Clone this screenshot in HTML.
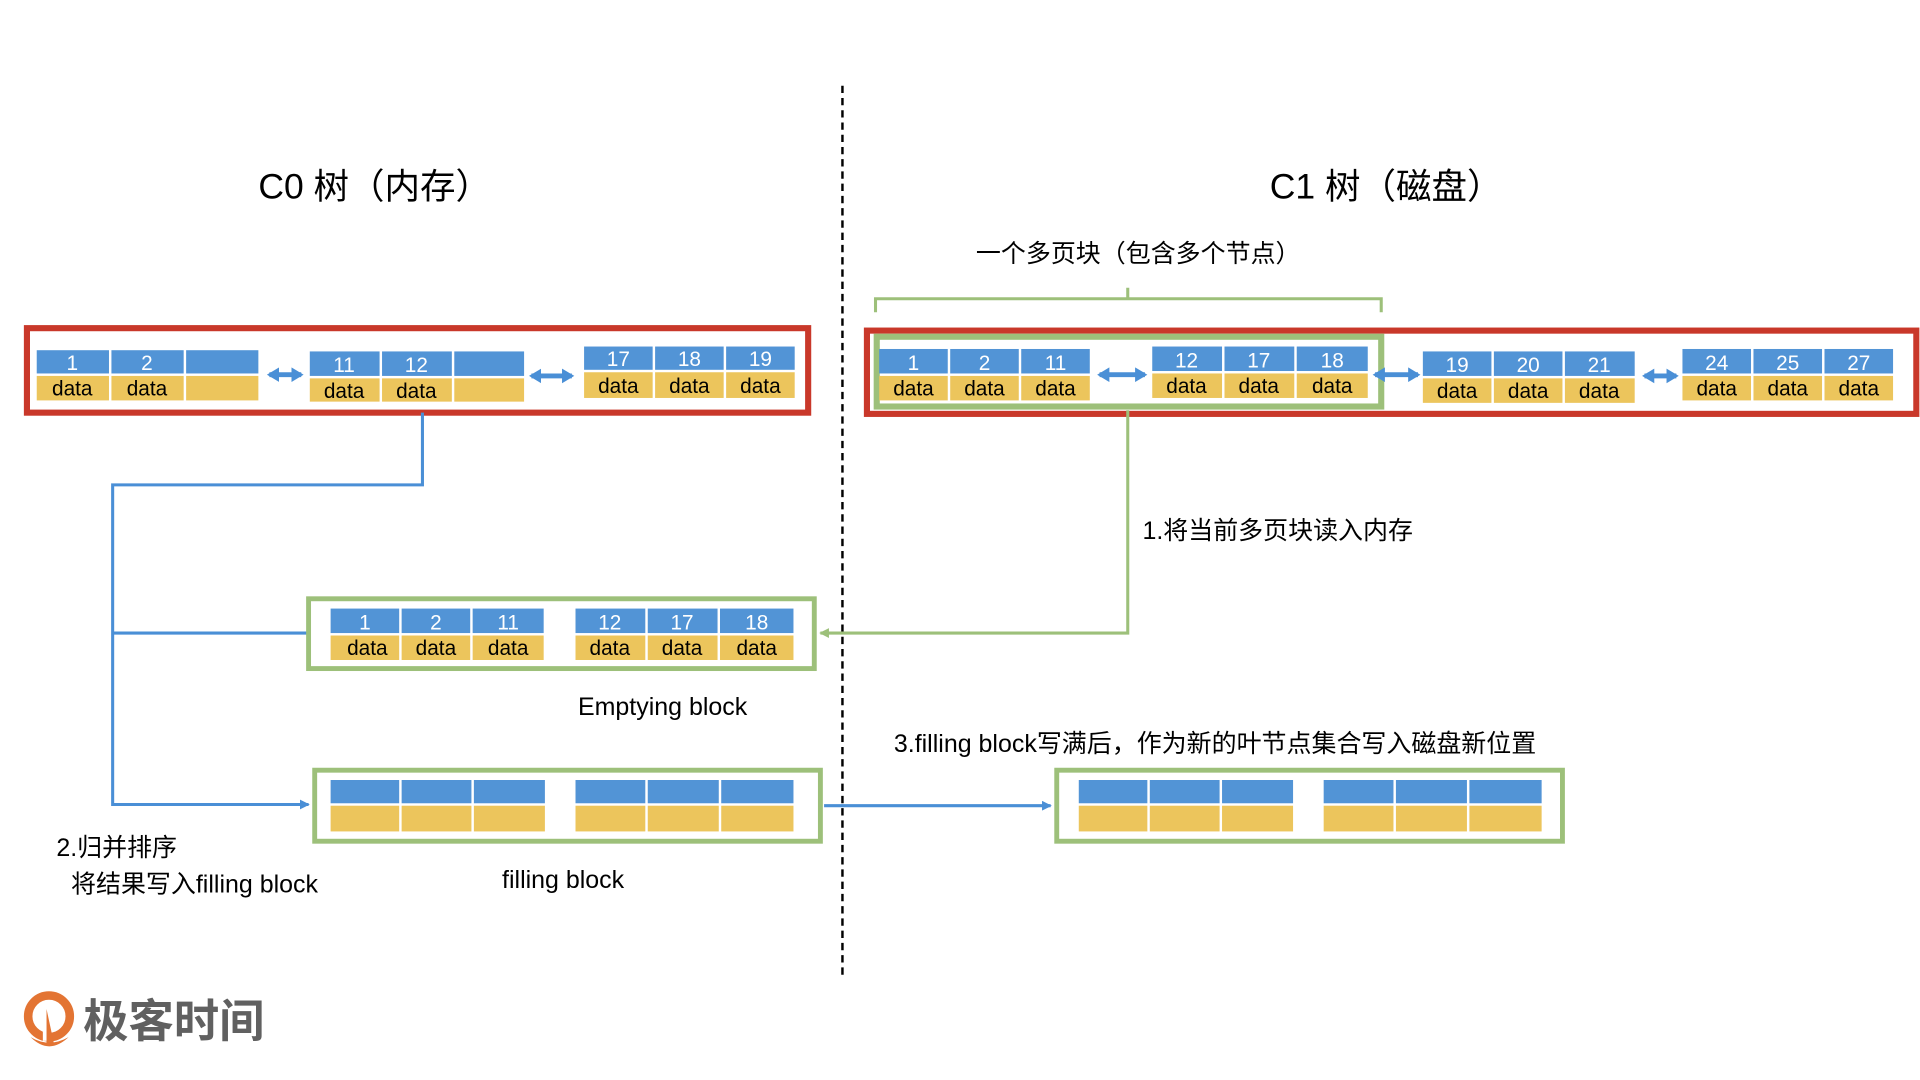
<!DOCTYPE html>
<html><head><meta charset="utf-8"><style>
html,body{margin:0;padding:0;background:#fff;width:1920px;height:1080px;overflow:hidden}
svg{display:block}
text{font-family:"Liberation Sans","Noto Sans CJK SC",sans-serif}
.n{fill:#fff;font-size:17px;text-anchor:middle}
.d{fill:#000;font-size:17px;text-anchor:middle}
.b{fill:#5294d6}
.y{fill:#ecc55c}
</style></head><body>
<svg width="1920" height="1080" viewBox="0 0 1568 882" xmlns="http://www.w3.org/2000/svg">
<defs>
<marker id="ab" markerWidth="8" markerHeight="8" refX="7" refY="4" orient="auto" markerUnits="userSpaceOnUse"><path d="M0,0 L8,4 L0,8 z" fill="#4a8fd6"/></marker>
<marker id="ag" markerWidth="8" markerHeight="8" refX="7" refY="4" orient="auto" markerUnits="userSpaceOnUse"><path d="M0,0 L8,4 L0,8 z" fill="#9dc07a"/></marker>
<marker id="dbl" markerWidth="10" markerHeight="12" refX="8" refY="6" orient="auto-start-reverse" markerUnits="userSpaceOnUse"><path d="M0,0 L10,6 L0,12 z" fill="#4a8fd6"/></marker>
</defs>

<line x1="688" y1="70" x2="688" y2="797" stroke="#000" stroke-width="2" stroke-dasharray="6,4"/>

<text x="306" y="162" font-size="29" text-anchor="middle">C0 树（内存）</text>
<text x="1132" y="162" font-size="29" text-anchor="middle">C1 树（磁盘）</text>
<text x="797" y="214" font-size="20.4">一个多页块（包含多个节点）</text>

<path d="M715,255 V244 H1128 V255 M921,244 V235" fill="none" stroke="#9dc07a" stroke-width="2.5"/>

<rect x="22" y="268" width="638" height="69" fill="none" stroke="#c9382a" stroke-width="5"/>
<rect x="708" y="270" width="857" height="68" fill="none" stroke="#c9382a" stroke-width="5"/>
<rect x="716" y="275" width="412" height="57" fill="none" stroke="#9dc07a" stroke-width="5"/>

<polyline points="345,337 345,396 92,396 92,657 252,657" fill="none" stroke="#4a8fd6" stroke-width="2.5" marker-end="url(#ab)"/>
<line x1="92" y1="517" x2="251" y2="517" stroke="#4a8fd6" stroke-width="2.5"/>
<polyline points="921,335 921,517 670,517" fill="none" stroke="#9dc07a" stroke-width="2.5" marker-end="url(#ag)"/>
<line x1="673" y1="658" x2="858" y2="658" stroke="#4a8fd6" stroke-width="2.5" marker-end="url(#ab)"/>

<g stroke="#4a8fd6" stroke-width="4" fill="none">
<line x1="220" y1="306" x2="246" y2="306" marker-start="url(#dbl)" marker-end="url(#dbl)"/>
<line x1="434" y1="307" x2="467" y2="307" marker-start="url(#dbl)" marker-end="url(#dbl)"/>
<line x1="898" y1="306" x2="935" y2="306" marker-start="url(#dbl)" marker-end="url(#dbl)"/>
<line x1="1123" y1="306" x2="1158" y2="306" marker-start="url(#dbl)" marker-end="url(#dbl)"/>
<line x1="1343" y1="307" x2="1369" y2="307" marker-start="url(#dbl)" marker-end="url(#dbl)"/>
</g>

<rect x="252" y="489" width="413" height="57" fill="none" stroke="#9dc07a" stroke-width="4"/>
<rect x="257" y="629" width="413" height="58" fill="none" stroke="#9dc07a" stroke-width="4"/>
<rect x="863" y="629" width="413" height="58" fill="none" stroke="#9dc07a" stroke-width="4"/>

<g transform="translate(30,286)">
<rect class="b" x="0" y="0" width="59" height="19"/><rect class="b" x="61" y="0" width="59" height="19"/><rect class="b" x="122" y="0" width="59" height="19"/>
<rect class="y" x="0" y="21" width="59" height="20"/><rect class="y" x="61" y="21" width="59" height="20"/><rect class="y" x="122" y="21" width="59" height="20"/>
<text class="n" x="29" y="16">1</text><text class="n" x="90" y="16">2</text>
<text class="d" x="29" y="37">data</text><text class="d" x="90" y="37">data</text>
</g>
<g transform="translate(253,287)">
<rect class="b" x="0" y="0" width="57" height="20"/><rect class="b" x="59" y="0" width="57" height="20"/><rect class="b" x="118" y="0" width="57" height="20"/>
<rect class="y" x="0" y="22" width="57" height="19"/><rect class="y" x="59" y="22" width="57" height="19"/><rect class="y" x="118" y="22" width="57" height="19"/>
<text class="n" x="28" y="17">11</text><text class="n" x="87" y="17">12</text>
<text class="d" x="28" y="38">data</text><text class="d" x="87" y="38">data</text>
</g>
<g transform="translate(477,283)">
<rect class="b" x="0" y="0" width="56" height="19"/><rect class="b" x="58" y="0" width="56" height="19"/><rect class="b" x="116" y="0" width="56" height="19"/>
<rect class="y" x="0" y="21" width="56" height="21"/><rect class="y" x="58" y="21" width="56" height="21"/><rect class="y" x="116" y="21" width="56" height="21"/>
<text class="n" x="28" y="16">17</text><text class="n" x="86" y="16">18</text><text class="n" x="144" y="16">19</text>
<text class="d" x="28" y="38">data</text><text class="d" x="86" y="38">data</text><text class="d" x="144" y="38">data</text>
</g>
<g transform="translate(718,285)">
<rect class="b" x="0" y="0" width="56" height="20"/><rect class="b" x="58" y="0" width="56" height="20"/><rect class="b" x="116" y="0" width="56" height="20"/>
<rect class="y" x="0" y="22" width="56" height="20"/><rect class="y" x="58" y="22" width="56" height="20"/><rect class="y" x="116" y="22" width="56" height="20"/>
<text class="n" x="28" y="17">1</text><text class="n" x="86" y="17">2</text><text class="n" x="144" y="17">11</text>
<text class="d" x="28" y="38">data</text><text class="d" x="86" y="38">data</text><text class="d" x="144" y="38">data</text>
</g>
<g transform="translate(941,283)">
<rect class="b" x="0" y="0" width="57" height="20"/><rect class="b" x="59" y="0" width="57" height="20"/><rect class="b" x="118" y="0" width="58" height="20"/>
<rect class="y" x="0" y="22" width="57" height="20"/><rect class="y" x="59" y="22" width="57" height="20"/><rect class="y" x="118" y="22" width="58" height="20"/>
<text class="n" x="28" y="17">12</text><text class="n" x="87" y="17">17</text><text class="n" x="147" y="17">18</text>
<text class="d" x="28" y="38">data</text><text class="d" x="87" y="38">data</text><text class="d" x="147" y="38">data</text>
</g>
<g transform="translate(1162,287)">
<rect class="b" x="0" y="0" width="56" height="20"/><rect class="b" x="58" y="0" width="56" height="20"/><rect class="b" x="116" y="0" width="57" height="20"/>
<rect class="y" x="0" y="22" width="56" height="20"/><rect class="y" x="58" y="22" width="56" height="20"/><rect class="y" x="116" y="22" width="57" height="20"/>
<text class="n" x="28" y="17">19</text><text class="n" x="86" y="17">20</text><text class="n" x="144" y="17">21</text>
<text class="d" x="28" y="38">data</text><text class="d" x="86" y="38">data</text><text class="d" x="144" y="38">data</text>
</g>
<g transform="translate(1374,285)">
<rect class="b" x="0" y="0" width="56" height="20"/><rect class="b" x="58" y="0" width="56" height="20"/><rect class="b" x="116" y="0" width="56" height="20"/>
<rect class="y" x="0" y="22" width="56" height="20"/><rect class="y" x="58" y="22" width="56" height="20"/><rect class="y" x="116" y="22" width="56" height="20"/>
<text class="n" x="28" y="17">24</text><text class="n" x="86" y="17">25</text><text class="n" x="144" y="17">27</text>
<text class="d" x="28" y="38">data</text><text class="d" x="86" y="38">data</text><text class="d" x="144" y="38">data</text>
</g>
<g transform="translate(270,497)">
<rect class="b" x="0" y="0" width="56" height="20"/><rect class="b" x="58" y="0" width="56" height="20"/><rect class="b" x="116" y="0" width="58" height="20"/>
<rect class="y" x="0" y="22" width="56" height="20"/><rect class="y" x="58" y="22" width="56" height="20"/><rect class="y" x="116" y="22" width="58" height="20"/>
<text class="n" x="28" y="17">1</text><text class="n" x="86" y="17">2</text><text class="n" x="145" y="17">11</text>
<text class="d" x="30" y="38">data</text><text class="d" x="86" y="38">data</text><text class="d" x="145" y="38">data</text>
</g>
<g transform="translate(470,497)">
<rect class="b" x="0" y="0" width="57" height="20"/><rect class="b" x="59" y="0" width="57" height="20"/><rect class="b" x="118" y="0" width="60" height="20"/>
<rect class="y" x="0" y="22" width="57" height="20"/><rect class="y" x="59" y="22" width="57" height="20"/><rect class="y" x="118" y="22" width="60" height="20"/>
<text class="n" x="28" y="17">12</text><text class="n" x="87" y="17">17</text><text class="n" x="148" y="17">18</text>
<text class="d" x="28" y="38">data</text><text class="d" x="87" y="38">data</text><text class="d" x="148" y="38">data</text>
</g>
<g id="fc">
<rect class="b" x="270" y="637" width="56" height="19"/><rect class="b" x="328" y="637" width="57" height="19"/><rect class="b" x="387" y="637" width="58" height="19"/>
<rect class="y" x="270" y="658" width="56" height="21"/><rect class="y" x="328" y="658" width="57" height="21"/><rect class="y" x="387" y="658" width="58" height="21"/>
<rect class="b" x="470" y="637" width="57" height="19"/><rect class="b" x="529" y="637" width="58" height="19"/><rect class="b" x="589" y="637" width="59" height="19"/>
<rect class="y" x="470" y="658" width="57" height="21"/><rect class="y" x="529" y="658" width="58" height="21"/><rect class="y" x="589" y="658" width="59" height="21"/>
</g>
<use href="#fc" x="611" y="0"/>

<text x="472" y="584" font-size="20.4">Emptying block</text>
<text x="933" y="440" font-size="20.4">1.将当前多页块读入内存</text>
<text x="730" y="614" font-size="20.4">3.filling block写满后，作为新的叶节点集合写入磁盘新位置</text>
<text x="410" y="725" font-size="20.4">filling block</text>
<text x="46" y="699" font-size="20.4">2.归并排序</text>
<text x="58" y="729" font-size="20.4">将结果写入filling block</text>

<g>
<circle cx="40" cy="830" r="17" fill="none" stroke="#e37433" stroke-width="7"/>
<rect x="35" y="830" width="7" height="20" fill="#fff"/>
<path d="M38,824 L38,852 L44,852 Z" fill="#e37433"/>
<path d="M25,847 Q40,862 56,847 Q40,856 25,847 Z" fill="#e37433"/>
<text x="68" y="847" font-size="37" font-weight="bold" fill="#606060">极客时间</text>
</g>
</svg>
</body></html>
